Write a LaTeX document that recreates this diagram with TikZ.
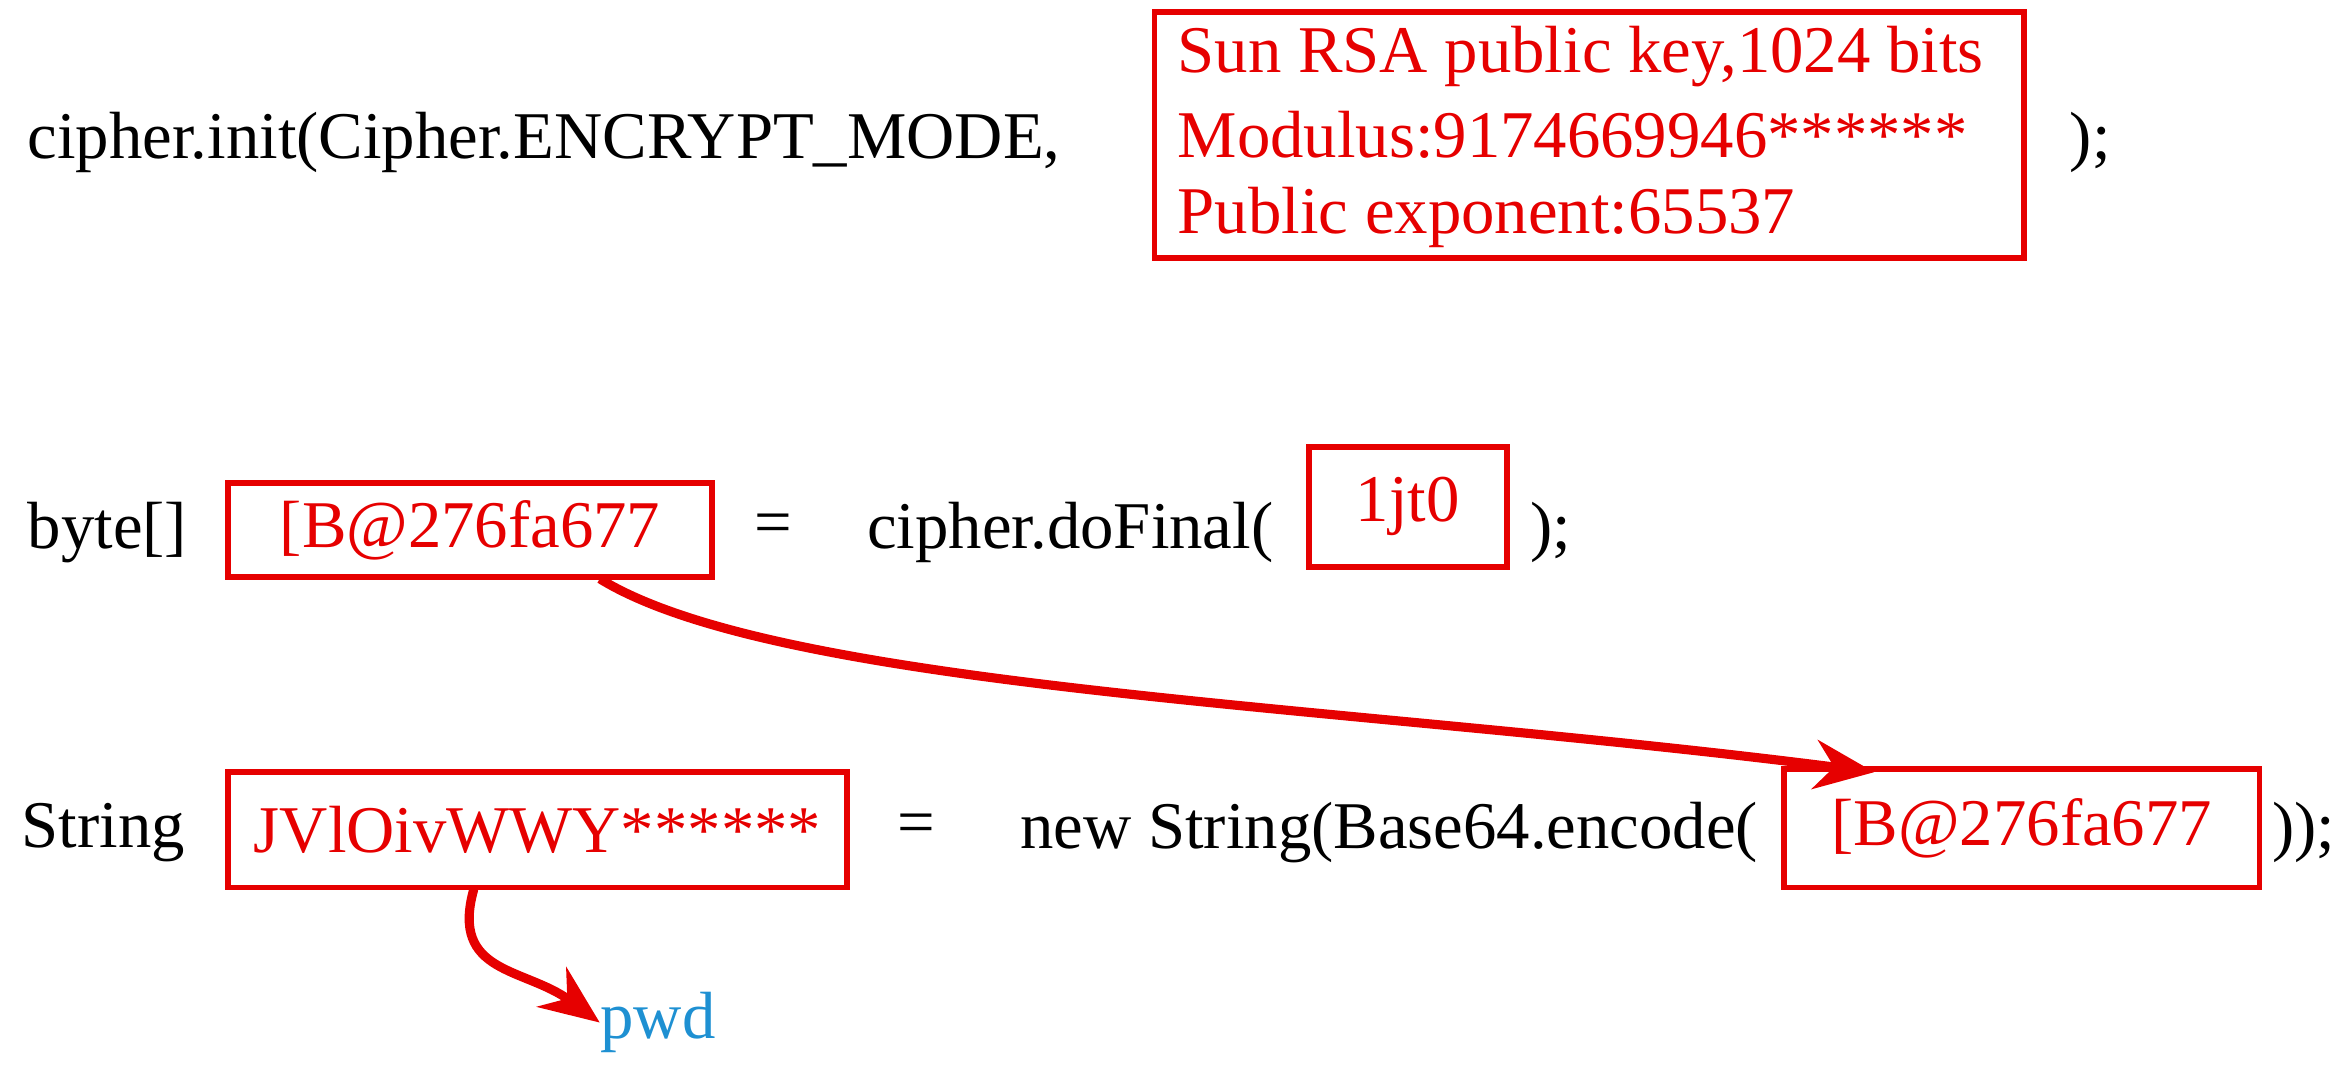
\documentclass[tikz,border=0pt]{standalone}
\usepackage{fontspec}
\setmainfont{Liberation Serif}
\usetikzlibrary{arrows.meta}
\definecolor{myred}{RGB}{230,0,0}
\definecolor{myblue}{RGB}{30,144,210}
\begin{document}
\begin{tikzpicture}[x=0.015cm,y=-0.015cm,
  txt/.style={anchor=west,inner sep=0pt,font=\fontsize{19}{23}\selectfont},
  box/.style={draw=myred,line width=1.6pt,text=myred,inner sep=0pt,font=\fontsize{19}{23}\selectfont},
  arr/.style={draw=myred,line width=2.6pt,-{Stealth[length=17pt,width=14pt]}}]
\useasboundingbox (0,0) rectangle (1568,710);
% line 1
\node[txt] (l1a) at (18,95) {cipher.init(Cipher.ENCRYPT\_MODE,};
\node[box,minimum width=580*0.015cm,minimum height=164*0.015cm] (key) at (1060,90) {};
\node[txt,text=myred] (k1) at (785,38) {Sun RSA public key,1024 bits};
\node[txt,text=myred] (k2) at (785,90) {Modulus:9174669946******};
\node[txt,text=myred] (k3) at (785,145) {Public exponent:65537};
\node[txt] (l1b) at (1380,95) {);};
% line 2
\node[txt] (l2a) at (18,355) {byte[]};
\node[box,minimum width=323*0.015cm,minimum height=63*0.015cm] (b1) at (313.5,353.5) {[B@276fa677};
\node[txt] (l2b) at (503,353) {=};
\node[txt] (l2c) at (578,355) {cipher.doFinal(};
\node[box,minimum width=132*0.015cm,minimum height=80*0.015cm] (pw) at (939,338) {1jt0};
\node[txt] (l2d) at (1020,355) {);};
% line 3
\node[txt] (l3a) at (14,555) {String};
\node[box,minimum width=413*0.015cm,minimum height=77*0.015cm] (enc) at (358.5,553.5) {JVlOivWWY******};
\node[txt] (l3b) at (598,553) {=};
\node[txt] (l3c) at (680,555) {new String(Base64.encode(};
\node[box,minimum width=317*0.015cm,minimum height=79*0.015cm] (b2) at (1348.5,552.5) {[B@276fa677};
\node[txt] (l3d) at (1515,555) {));};
\node[txt,text=myblue] (pwd) at (400,682) {pwd};
% arrows
\coordinate (s1) at (400,386);
\coordinate (e1) at (1250,515);
\draw[arr] (s1) .. controls (520,460) and (900,470) .. (e1);
\coordinate (s2) at (316,593);
\draw[arr] (s2) .. controls (300,650) and (350,645) .. (pwd.west);
\end{tikzpicture}
\end{document}
